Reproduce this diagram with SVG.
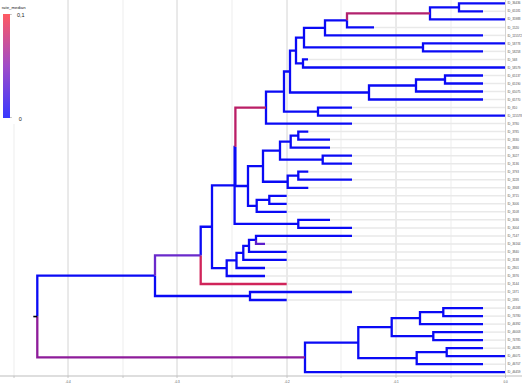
<svg xmlns="http://www.w3.org/2000/svg" width="522" height="384" viewBox="0 0 522 384">
<style>
.gmin{stroke:#EBEBEB;stroke-width:0.9;fill:none}
.gmaj{stroke:#D4D4D4;stroke-width:1;fill:none}
.al{stroke:#E9E9E9;stroke-width:1.5;fill:none}
.e{fill:none;stroke-width:2.3;stroke-linejoin:miter;stroke-linecap:butt}
.b{stroke:#0A0AF5}
.tl{font-family:"Liberation Sans",Arial,sans-serif;font-size:3px;fill:#4D4D4D}
.ax{font-family:"Liberation Sans",Arial,sans-serif;font-size:3px;fill:#4D4D4D;text-anchor:middle}
.lg{font-family:"Liberation Sans",Arial,sans-serif;fill:#1A1A1A}
</style>
<defs>
<linearGradient id="bar" x1="0" y1="0" x2="0" y2="1">
<stop offset="0" stop-color="#FF5A62"/>
<stop offset="0.5" stop-color="#A04CC8"/>
<stop offset="1" stop-color="#3838FF"/>
</linearGradient>
</defs>
<rect width="522" height="384" fill="#FFFFFF"/>
<g id="grid">
<path class="gmin" d="M14 0V376M123 0V376M232 0V376M341 0V376M451 0V376"/>
<path class="gmaj" d="M68 0V376M177 0V376M287 0V376M396 0V376M505.5 0V376"/>
</g>
<g id="axis">
<path d="M0 376H522" stroke="#BDBDBD" stroke-width="1" fill="none"/>
<path d="M14 376V378M68 376V378M123 376V378M177 376V378M232 376V378M287 376V378M341 376V378M396 376V378M451 376V378M505.5 376V378" stroke="#BDBDBD" stroke-width="0.8" fill="none"/>
<text class="ax" x="68" y="382.5">-0.4</text>
<text class="ax" x="177" y="382.5">-0.3</text>
<text class="ax" x="287" y="382.5">-0.2</text>
<text class="ax" x="396" y="382.5">-0.1</text>
<text class="ax" x="505.5" y="382.5">0.0</text>
</g>
<g id="tips">
<g id="t0"><text class="tl" x="507.5" y="4.4">ID_36436</text></g>
<g id="t1"><path class="al" d="M483 11.3H505"/><text class="tl" x="507.5" y="12.4">ID_65181</text></g>
<g id="t2"><text class="tl" x="507.5" y="20.4">ID_35988</text></g>
<g id="t3"><path class="al" d="M374 27.4H505"/><text class="tl" x="507.5" y="28.5">ID_1520</text></g>
<g id="t4"><path class="al" d="M483 35.4H505"/><text class="tl" x="507.5" y="36.5">ID_115572</text></g>
<g id="t5"><text class="tl" x="507.5" y="44.5">ID_58778</text></g>
<g id="t6"><path class="al" d="M483 51.4H505"/><text class="tl" x="507.5" y="52.5">ID_58258</text></g>
<g id="t7"><path class="al" d="M308 59.4H505"/><text class="tl" x="507.5" y="60.5">ID_568</text></g>
<g id="t8"><text class="tl" x="507.5" y="68.6">ID_58579</text></g>
<g id="t9"><path class="al" d="M483 75.5H505"/><text class="tl" x="507.5" y="76.6">ID_65137</text></g>
<g id="t10"><path class="al" d="M483 83.5H505"/><text class="tl" x="507.5" y="84.6">ID_65190</text></g>
<g id="t11"><path class="al" d="M483 91.5H505"/><text class="tl" x="507.5" y="92.6">ID_65075</text></g>
<g id="t12"><path class="al" d="M483 99.5H505"/><text class="tl" x="507.5" y="100.6">ID_65770</text></g>
<g id="t13"><path class="al" d="M352 107.6H505"/><text class="tl" x="507.5" y="108.7">ID_810</text></g>
<g id="t14"><text class="tl" x="507.5" y="116.7">ID_115578</text></g>
<g id="t15"><path class="al" d="M352 123.6H505"/><text class="tl" x="507.5" y="124.7">ID_3780</text></g>
<g id="t16"><path class="al" d="M308.3 131.6H505"/><text class="tl" x="507.5" y="132.7">ID_3785</text></g>
<g id="t17"><path class="al" d="M330 139.6H505"/><text class="tl" x="507.5" y="140.7">ID_3330</text></g>
<g id="t18"><path class="al" d="M330 147.7H505"/><text class="tl" x="507.5" y="148.8">ID_3880</text></g>
<g id="t19"><path class="al" d="M352 155.7H505"/><text class="tl" x="507.5" y="156.8">ID_3027</text></g>
<g id="t20"><path class="al" d="M352 163.7H505"/><text class="tl" x="507.5" y="164.8">ID_3136</text></g>
<g id="t21"><path class="al" d="M308.3 171.7H505"/><text class="tl" x="507.5" y="172.8">ID_3793</text></g>
<g id="t22"><path class="al" d="M352 179.7H505"/><text class="tl" x="507.5" y="180.8">ID_3228</text></g>
<g id="t23"><path class="al" d="M308.3 187.8H505"/><text class="tl" x="507.5" y="188.9">ID_3368</text></g>
<g id="t24"><path class="al" d="M286.7 195.8H505"/><text class="tl" x="507.5" y="196.9">ID_3715</text></g>
<g id="t25"><path class="al" d="M286.7 203.8H505"/><text class="tl" x="507.5" y="204.9">ID_3006</text></g>
<g id="t26"><path class="al" d="M286.7 211.8H505"/><text class="tl" x="507.5" y="212.9">ID_3108</text></g>
<g id="t27"><path class="al" d="M330 219.8H505"/><text class="tl" x="507.5" y="220.9">ID_3036</text></g>
<g id="t28"><path class="al" d="M352 227.9H505"/><text class="tl" x="507.5" y="229">ID_3004</text></g>
<g id="t29"><path class="al" d="M352 235.9H505"/><text class="tl" x="507.5" y="237">ID_7147</text></g>
<g id="t30"><path class="al" d="M265 243.9H505"/><text class="tl" x="507.5" y="245">ID_36164</text></g>
<g id="t31"><path class="al" d="M286.7 251.9H505"/><text class="tl" x="507.5" y="253">ID_3840</text></g>
<g id="t32"><path class="al" d="M286.7 259.9H505"/><text class="tl" x="507.5" y="261">ID_3138</text></g>
<g id="t33"><path class="al" d="M265 268H505"/><text class="tl" x="507.5" y="269.1">ID_2801</text></g>
<g id="t34"><path class="al" d="M265 276H505"/><text class="tl" x="507.5" y="277.1">ID_3376</text></g>
<g id="t35"><path class="al" d="M286.7 284H505"/><text class="tl" x="507.5" y="285.1">ID_3144</text></g>
<g id="t36"><path class="al" d="M352 292H505"/><text class="tl" x="507.5" y="293.1">ID_1371</text></g>
<g id="t37"><path class="al" d="M286.7 300H505"/><text class="tl" x="507.5" y="301.1">ID_1395</text></g>
<g id="t38"><path class="al" d="M483 308.1H505"/><text class="tl" x="507.5" y="309.2">ID_45168</text></g>
<g id="t39"><path class="al" d="M483 316.1H505"/><text class="tl" x="507.5" y="317.2">ID_74780</text></g>
<g id="t40"><path class="al" d="M483 324.1H505"/><text class="tl" x="507.5" y="325.2">ID_46392</text></g>
<g id="t41"><path class="al" d="M483 332.1H505"/><text class="tl" x="507.5" y="333.2">ID_46003</text></g>
<g id="t42"><path class="al" d="M483 340.1H505"/><text class="tl" x="507.5" y="341.2">ID_74785</text></g>
<g id="t43"><path class="al" d="M483 348.2H505"/><text class="tl" x="507.5" y="349.3">ID_46285</text></g>
<g id="t44"><text class="tl" x="507.5" y="357.3">ID_46071</text></g>
<g id="t45"><path class="al" d="M483 364.2H505"/><text class="tl" x="507.5" y="365.3">ID_46707</text></g>
<g id="t46"><text class="tl" x="507.5" y="373.3">ID_46459</text></g>
</g>
<g id="connectors">
<path class="e b" d="
M37.3 316.55V275.7H155
M155 275.7V296H250
M250 296V292H352 M250 296V300H286.7
M200.7 255.4V226.75H212
M212 226.75V185.3H234.6
M212 226.75V268.2H226.7
M234.6 185.3V146.8H235.4
M234.6 185.3V223.85H298.3
M298.3 223.85V219.8H330 M298.3 223.85V227.9H352
M235.4 146.8V186H248
M266 107.6V91.55H284 M266 107.6V123.6H352
M284 91.55V71.5H290 M284 91.55V111.6H318
M318 111.6V107.6H352 M318 111.6V115.6H505
M290 71.5V50.55H296 M290 71.5V92.5H369
M369 92.5V85.5H416 M369 92.5V99.5H483
M416 85.5V79.5H445 M416 85.5V91.5H483
M445 79.5V75.5H483 M445 79.5V83.5H483
M296 50.55V37.65H304 M296 50.55V63.45H303
M303 63.45V59.4H308 M303 63.45V67.5H505
M304 37.65V27.9H325 M304 37.65V47.4H423
M423 47.4V43.4H505 M423 47.4V51.4H483
M325 27.9V20.35H347 M325 27.9V35.4H483
M347 20.35V27.4H374
M430 13.3V7.3H459 M430 13.3V19.3H505
M459 7.3V3.3H505 M459 7.3V11.3H483
M248 186V166.2H263 M248 186V205.8H256.7
M263 166.2V150.7H280 M263 166.2V181.75H287.7
M280 150.7V141.65H290.7 M280 150.7V159.7H322.7
M290.7 141.65V135.6H298.3 M290.7 141.65V147.7H330
M298.3 135.6V131.6H308.3 M298.3 135.6V139.6H330
M322.7 159.7V155.7H352 M322.7 159.7V163.7H352
M287.7 181.75V175.7H298.3 M287.7 181.75V187.8H308.3
M298.3 175.7V171.7H308.3 M298.3 175.7V179.7H352
M256.7 205.8V199.8H269.3 M256.7 205.8V211.8H286.7
M269.3 199.8V195.8H286.7 M269.3 199.8V203.8H286.7
M226.7 268.2V260.45H236.5 M226.7 268.2V276H265
M236.5 260.45V252.9H243.3 M236.5 260.45V268H265
M243.3 252.9V245.9H249 M243.3 252.9V259.9H286.7
M249 245.9V239.9H256 M249 245.9V251.9H286.7
M256 239.9V235.9H352
M305 357.4V342.65H358.3 M305 357.4V372.2H505
M358.3 342.65V327.1H391.7 M358.3 342.65V358.2H416.7
M391.7 327.1V318.1H420 M391.7 327.1V336.1H433.3
M420 318.1V312.1H443.3 M420 318.1V324.1H483
M443.3 312.1V308.1H483 M443.3 312.1V316.1H483
M433.3 336.1V332.1H483 M433.3 336.1V340.1H483
M416.7 358.2V352.2H446.7 M416.7 358.2V364.2H483
M446.7 352.2V348.2H483 M446.7 352.2V356.2H505"/>
<path class="e" stroke="#5C1ECC" d="M256 239.9V243.9H265"/>
<path class="e" stroke="#B2226E" d="M347 20.35V13.3H430"/>
<path class="e" stroke="#BA1E66" d="M235.4 146.8V107.6H266"/>
<path class="e" stroke="#D0245A" d="M200.7 255.4V284H286.7"/>
<path class="e" stroke="#6A2ACB" d="M155 275.7V255.4H200.7"/>
<path class="e" stroke="#8E1C9A" d="M37.3 316.55V357.4H305"/>
<path d="M33.3 316.55H37.3" stroke="#000000" stroke-width="1.6" fill="none"/>
</g>
<g id="legend">
<rect x="0" y="0" width="30" height="124" fill="#FFFFFF"/>
<text class="lg" x="1.7" y="8.6" font-size="4.3">rate_median</text>
<rect x="3" y="14" width="7" height="104" fill="url(#bar)"/>
<path d="M10 14.5H11.8M10 117.5H11.8" stroke="#9A9A9A" stroke-width="0.6" fill="none"/>
<text class="lg" x="17" y="17" font-size="5.5">0,1</text>
<text class="lg" x="18.8" y="120.6" font-size="5.5">0</text>
</g>
</svg>
